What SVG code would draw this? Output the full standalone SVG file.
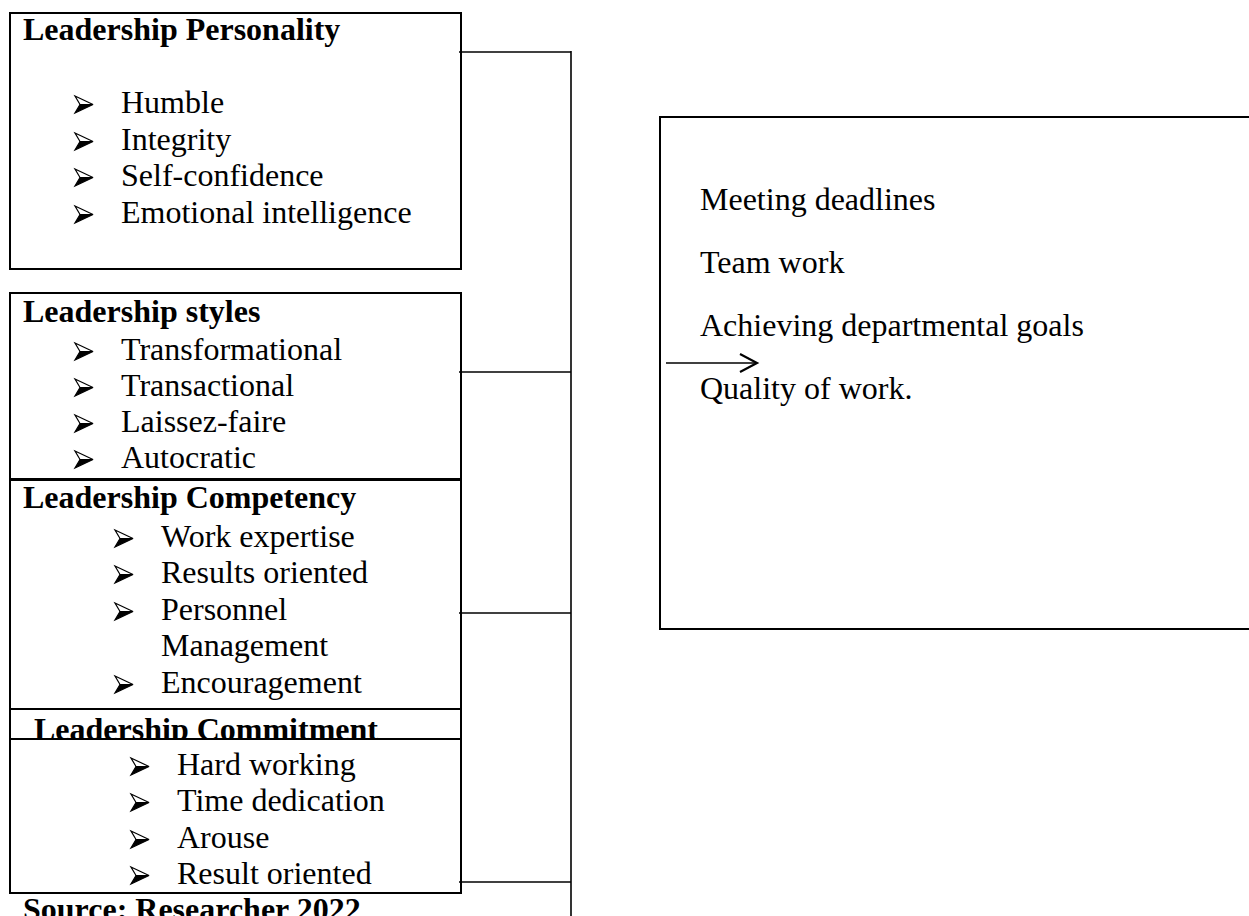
<svg xmlns="http://www.w3.org/2000/svg" width="1249" height="916" viewBox="0 0 1249 916">
<style>
.box{fill:#fff;stroke:#000;stroke-width:2}
.t{font-family:"Liberation Serif","Times New Roman",serif;font-size:32px;fill:#000}
.b{font-weight:bold}
.conn{stroke:#000;stroke-width:1.6;fill:none}
</style>
<defs>
<g id="bul">
<polygon points="0,0 18,8.5 5,8.5" fill="#fff" stroke="#000" stroke-width="1.2" stroke-linejoin="miter"/>
<polygon points="0,17 18,8.5 5,8.5" fill="#000" stroke="#000" stroke-width="1.2"/>
</g>
<marker id="ah" markerWidth="22" markerHeight="22" refX="18" refY="10" orient="auto" markerUnits="userSpaceOnUse">
<polyline points="1,1 18,10 1,19" fill="none" stroke="#000" stroke-width="2.2"/>
</marker>
</defs>
<rect width="1249" height="916" fill="#fff"/>

<g id="personality">
<rect class="box" x="10" y="13" width="451" height="256"/>
<text class="t b" x="23" y="40">Leadership Personality</text>
<use href="#bul" x="75" y="96"/><text class="t" x="121" y="113">Humble</text>
<use href="#bul" x="75" y="133"/><text class="t" x="121" y="150">Integrity</text>
<use href="#bul" x="75" y="169"/><text class="t" x="121" y="186">Self-confidence</text>
<use href="#bul" x="75" y="206"/><text class="t" x="121" y="223">Emotional intelligence</text>
</g>

<g id="styles">
<rect class="box" x="10" y="293" width="451" height="186"/>
<text class="t b" x="23" y="322">Leadership styles</text>
<use href="#bul" x="75" y="343"/><text class="t" x="121" y="360">Transformational</text>
<use href="#bul" x="75" y="379"/><text class="t" x="121" y="396">Transactional</text>
<use href="#bul" x="75" y="415"/><text class="t" x="121" y="432">Laissez-faire</text>
<use href="#bul" x="75" y="451"/><text class="t" x="121" y="468">Autocratic</text>
</g>

<g id="competency">
<rect class="box" x="10" y="480" width="451" height="229"/>
<text class="t b" x="23" y="508">Leadership Competency</text>
<use href="#bul" x="115" y="530"/><text class="t" x="161" y="547">Work expertise</text>
<use href="#bul" x="115" y="566"/><text class="t" x="161" y="583">Results oriented</text>
<use href="#bul" x="115" y="603"/><text class="t" x="161" y="620">Personnel</text>
<text class="t" x="161" y="656">Management</text>
<use href="#bul" x="115" y="676"/><text class="t" x="161" y="693">Encouragement</text>
</g>

<g id="commitment">
<rect class="box" x="10" y="709" width="451" height="184"/>
<text class="t b" x="34" y="740">Leadership Commitment</text>
<rect x="11" y="740" width="449" height="152" fill="#fff"/>
<line x1="10" y1="739" x2="461" y2="739" stroke="#000" stroke-width="2"/>
<use href="#bul" x="131" y="758"/><text class="t" x="177" y="775">Hard working</text>
<use href="#bul" x="131" y="794"/><text class="t" x="177" y="811">Time dedication</text>
<use href="#bul" x="131" y="831"/><text class="t" x="177" y="848">Arouse</text>
<use href="#bul" x="131" y="867"/><text class="t" x="177" y="884">Result oriented</text>
</g>

<g id="source">
<text class="t b" x="23" y="920">Source: Researcher 2022</text>
</g>

<g id="outcomes">
<rect class="box" x="660" y="117" width="620" height="512"/>
<text class="t" x="700" y="210">Meeting deadlines</text>
<text class="t" x="700" y="273">Team work</text>
<text class="t" x="700" y="336">Achieving departmental goals</text>
<text class="t" x="700" y="399">Quality of work.</text>
</g>

<g id="connectors">
<line class="conn" x1="459" y1="52" x2="571" y2="52"/>
<line class="conn" x1="459" y1="372" x2="571" y2="372"/>
<line class="conn" x1="459" y1="613" x2="571" y2="613"/>
<line class="conn" x1="459" y1="882" x2="571" y2="882"/>
<line class="conn" x1="571" y1="51" x2="571" y2="916"/>
<line class="conn" x1="666" y1="363" x2="757" y2="363" stroke-width="2" marker-end="url(#ah)"/>
</g>
</svg>
